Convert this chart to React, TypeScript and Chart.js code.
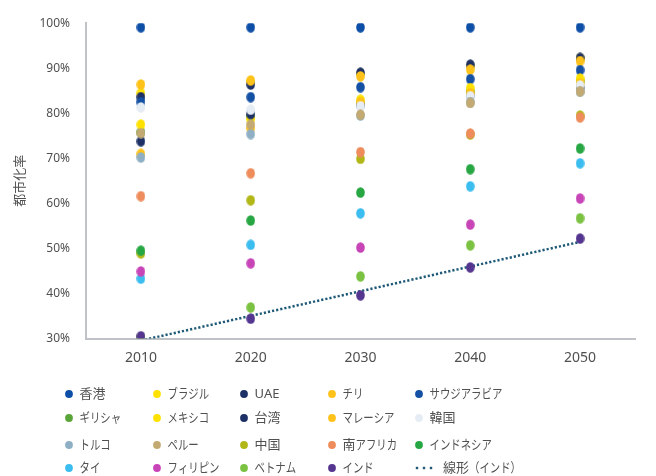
import React, { useEffect, useRef } from "react";
import { Chart, registerables } from "chart.js";

Chart.register(...registerables);

// Urbanisation rate (%) by country, 2010–2050
const years = ["2010", "2020", "2030", "2040", "2050"];

const hongKong = [99.1, 99.1, 99.1, 99.1, 99.1];
const brazil = [84.5, 87.0, 88.8, 90.5, 92.2];
const uae = [83.6, 86.4, 89.0, 90.8, 92.3];
const chile = [86.4, 87.3, 88.2, 89.7, 91.6];
const saudiArabia = [82.5, 83.6, 85.8, 87.6, 89.6];
const greece = [75.8, 79.3, 82.1, 84.9, 87.1];
const mexico = [77.5, 78.7, 83.0, 85.6, 87.7];
const taiwan = [73.8, 79.8, 81.8, 84.0, 85.9];
const malaysia = [71.0, 76.7, 82.5, 84.5, 86.6];
const korea = [81.3, 80.8, 81.6, 83.8, 86.2];
const turkey = [70.2, 75.4, 79.5, 82.5, 84.8];
const peru = [75.6, 77.5, 79.7, 82.3, 84.9];
const china = [48.9, 60.7, 69.9, 75.3, 79.5];
const southAfrica = [61.6, 66.7, 71.4, 75.5, 79.1];
const indonesia = [49.5, 56.2, 62.4, 67.6, 72.2];
const thailand = [43.3, 50.8, 57.8, 63.8, 68.9];
const philippines = [44.9, 46.7, 50.2, 55.3, 61.1];
const vietnam = [30.3, 36.9, 43.8, 50.7, 56.7];
const india = [30.5, 34.4, 39.6, 45.8, 52.2];

const yTicks = [30, 40, 50, 60, 70, 80, 90, 100];

const series = [
  { label: "香港", data: hongKong, color: "#0D4EA6" },
  { label: "ブラジル", data: brazil, color: "#FFE100" },
  { label: "UAE", data: uae, color: "#1E3166" },
  { label: "チリ", data: chile, color: "#FFC21A" },
  { label: "サウジアラビア", data: saudiArabia, color: "#1450A3" },
  { label: "ギリシャ", data: greece, color: "#5AA53A" },
  { label: "メキシコ", data: mexico, color: "#FFE100" },
  { label: "台湾", data: taiwan, color: "#1E3166" },
  { label: "マレーシア", data: malaysia, color: "#FFC21A" },
  { label: "韓国", data: korea, color: "#E6ECF3" },
  { label: "トルコ", data: turkey, color: "#8FB0C4" },
  { label: "ペルー", data: peru, color: "#C3AA72" },
  { label: "中国", data: china, color: "#B2B718" },
  { label: "南アフリカ", data: southAfrica, color: "#EE8C5C" },
  { label: "インドネシア", data: indonesia, color: "#27A744" },
  { label: "タイ", data: thailand, color: "#3CBDEF" },
  { label: "フィリピン", data: philippines, color: "#C845B8" },
  { label: "ベトナム", data: vietnam, color: "#7CC242" },
  { label: "インド", data: india, color: "#54358F" },
];

const TREND_LABEL = "線形（インド）";
const TREND_COLOR = "#1E5A78";
const FONT = '"Noto Sans", "Noto Sans CJK JP", sans-serif';
const TEXT_COLOR = "#505050";

// Legend grid: marker x per column, text y per row
const legendCols = [69, 157, 244, 332, 419];
const legendRows = [394, 418, 445, 468];

// Least-squares linear trend over the category index
function linearTrend(values: number[]): number[] {
  const n = values.length;
  const xs = values.map((_, i) => i);
  const mx = xs.reduce((a, b) => a + b, 0) / n;
  const my = values.reduce((a, b) => a + b, 0) / n;
  let num = 0;
  let den = 0;
  xs.forEach((x, i) => {
    num += (x - mx) * (values[i] - my);
    den += (x - mx) * (x - mx);
  });
  const slope = num / den;
  return xs.map((x) => my + slope * (x - mx));
}

// Slightly tall oval marker
function makeDot(color: string): HTMLCanvasElement {
  const c = document.createElement("canvas");
  c.width = 9;
  c.height = 11;
  const g = c.getContext("2d")!;
  g.fillStyle = color;
  g.beginPath();
  g.ellipse(4.5, 5.5, 4.3, 5.3, 0, 0, Math.PI * 2);
  g.fill();
  return c;
}

// Kana and full-width brackets are set narrower than kanji
function drawLabel(ctx: CanvasRenderingContext2D, text: string, x: number, y: number) {
  let cx = x;
  for (const ch of text) {
    const w = ctx.measureText(ch).width;
    if (/[\u30A0-\u30FF\uFF08\uFF09]/.test(ch)) {
      ctx.save();
      ctx.translate(cx, y);
      ctx.scale(0.8, 1);
      ctx.fillText(ch, 0, 0);
      ctx.restore();
      cx += w * 0.8;
    } else {
      ctx.fillText(ch, cx, y);
      cx += w;
    }
  }
}

const gridLegend = {
  id: "gridLegend",
  afterDraw(chart: any) {
    const ctx: CanvasRenderingContext2D = chart.ctx;
    ctx.save();
    ctx.font = `13px ${FONT}`;
    ctx.textBaseline = "middle";
    ctx.textAlign = "left";
    chart.data.datasets.forEach((ds: any, i: number) => {
      const cx = legendCols[i % 5];
      const cy = legendRows[Math.floor(i / 5)];
      if (ds.trend) {
        ctx.fillStyle = ds.borderColor;
        [-2, 5, 12].forEach((dx) => ctx.fillRect(cx + dx - 1.2, cy - 1.2, 2.4, 2.4));
        ctx.fillStyle = TEXT_COLOR;
        drawLabel(ctx, ds.label, cx + 24, cy);
      } else {
        ctx.fillStyle = ds.backgroundColor;
        ctx.beginPath();
        ctx.arc(cx, cy, 3.9, 0, Math.PI * 2);
        ctx.fill();
        ctx.fillStyle = TEXT_COLOR;
        drawLabel(ctx, ds.label, cx + 10.5, cy);
      }
    });
    ctx.restore();
  },
};

export default function App() {
  const canvasRef = useRef<HTMLCanvasElement | null>(null);

  useEffect(() => {
    document.body.style.margin = "0";
    const canvas = canvasRef.current;
    if (!canvas) return;

    const n = series.length;
    const datasets: any[] = series.map((s, i) => ({
      type: "line",
      label: s.label,
      data: s.data,
      showLine: false,
      backgroundColor: s.color,
      borderColor: s.color,
      pointStyle: makeDot(s.color),
      pointRadius: 5,
      order: n - i + 1,
    }));
    datasets.push({
      type: "line",
      label: TREND_LABEL,
      trend: true,
      data: linearTrend(india),
      borderColor: TREND_COLOR,
      backgroundColor: TREND_COLOR,
      borderWidth: 2.5,
      borderDash: [2.2, 2],
      borderCapStyle: "butt",
      pointRadius: 0,
      fill: false,
      order: 100,
    });

    const chart = new Chart(canvas, {
      type: "line",
      data: { labels: years, datasets },
      plugins: [gridLegend],
      options: {
        animation: false,
        responsive: true,
        maintainAspectRatio: false,
        events: [],
        layout: { padding: { left: 0, right: 21, top: 20, bottom: 100 } },
        plugins: {
          legend: { display: false },
          tooltip: { enabled: false },
        },
        scales: {
          x: {
            type: "category",
            offset: true,
            grid: { display: false, drawTicks: false },
            border: { display: true, color: "#BFC3C7", width: 2 },
            ticks: {
              color: TEXT_COLOR,
              font: { family: FONT, size: 14 },
              padding: 11,
              maxRotation: 0,
            },
            afterFit: (s: any) => {
              s.height = 37.5;
            },
          },
          y: {
            min: 30,
            max: 100,
            grid: { display: false, drawTicks: false },
            border: { display: true, color: "#BFC3C7", width: 2 },
            afterBuildTicks: (s: any) => {
              s.ticks = yTicks.map((v) => ({ value: v }));
            },
            ticks: {
              color: TEXT_COLOR,
              font: { family: FONT, size: 12 },
              padding: 16,
              callback: (v: any) => `${v}%`,
            },
            title: {
              display: true,
              text: "都市化率",
              color: TEXT_COLOR,
              font: { family: FONT, size: 13 },
              padding: { top: 12, bottom: 0 },
            },
            afterFit: (s: any) => {
              s.width = 86;
            },
          },
        },
      },
    } as any);

    return () => chart.destroy();
  }, []);

  return (
    <div style={{ position: "relative", width: 656, height: 476 }}>
      <canvas ref={canvasRef} />
    </div>
  );
}
